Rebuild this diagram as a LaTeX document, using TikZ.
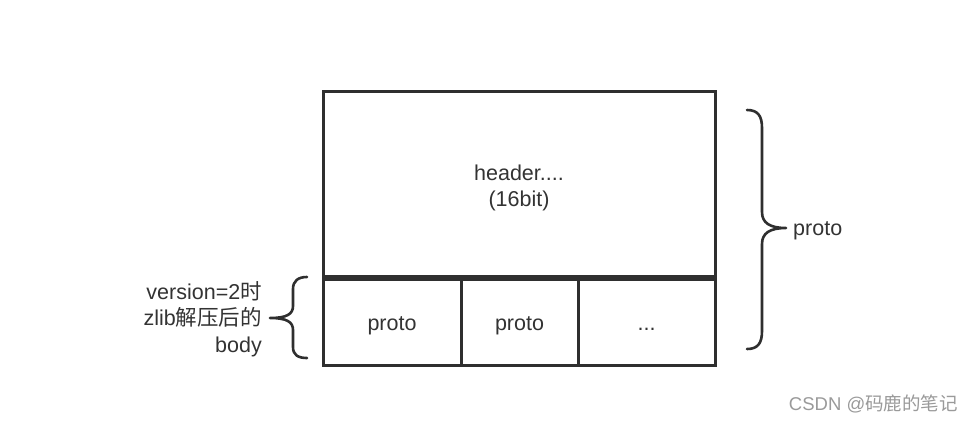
\documentclass[tikz,border=0pt]{standalone}
\usepackage{fontspec}
\setmainfont{Liberation Sans}
\newfontfamily\cjk{Noto Sans CJK SC}
\usepackage{tikz}
\usetikzlibrary{positioning}

\definecolor{inkgray}{HTML}{2F2F2F}
\definecolor{txtgray}{HTML}{333333}
\definecolor{markgray}{HTML}{9A9A9A}

\tikzset{
  cellbox/.style={draw=inkgray,line width=3pt,minimum height=86pt,inner sep=0pt,outer sep=0pt,
    text height=22pt,text depth=4.5pt,font=\fontsize{21.5}{26}\selectfont,text=txtgray},
  bracepath/.style={draw=inkgray,line width=2.6pt,line cap=round,line join=round},
  sidetext/.style={font=\fontsize{21.5}{26.5}\selectfont,text=txtgray,inner sep=0pt}
}

\begin{document}
\begin{tikzpicture}[x=1pt,y=-1pt]
      \useasboundingbox[fill=white] (0,0) rectangle (969,424);
      % header and the proto cells
      \node[cellbox,minimum width=392pt,minimum height=185pt,align=center,text height=50pt,text depth=4.5pt] (header) at (519,183.5) {header....\\(16bit)};
      \node[cellbox,minimum width=138pt] (cellA) at (392,322) {proto};
      \node[cellbox,minimum width=117pt,right=0pt of cellA] (cellB) {proto};
      \node[cellbox,minimum width=137pt,right=0pt of cellB] (cellC) {...};
      % right brace
      \coordinate (rtop) at ([xshift=32pt,yshift=-19pt]header.north east);
      \coordinate (rbot) at ([xshift=32pt,yshift=16pt]cellC.south east);
      \coordinate (rtip) at (786,228);
      \draw[bracepath] (rtop) .. controls +(11,0) and +(0,-12) .. ++(15,18) -- (762,212)
        .. controls (762,223) and (770,228) .. (rtip)
        .. controls (770,228) and (762,233) .. (762,244) -- (762,331)
        .. controls (762,343) and (758,349) .. (rbot);
      \node[sidetext,anchor=west] (wholelbl) at ([xshift=7pt,yshift=-3pt]rtip) {proto};
      % left brace
      \coordinate (ltop) at (307,277);
      \coordinate (lbot) at (307,358);
      \coordinate (ltip) at (270,318);
      \draw[bracepath] (ltop) .. controls (298,277) and (293,281) .. (293,289) -- (293,306)
        .. controls (293,314) and (287,318) .. (ltip)
        .. controls (287,318) and (293,322) .. (293,330) -- (293,347)
        .. controls (293,355) and (298,358) .. (lbot);
      \node[sidetext,anchor=east,align=right] (bodylbl) at ([xshift=-8pt,yshift=-1pt]ltip) {version=2{\cjk 时}\\zlib{\cjk 解压后的}\\body};
      % watermark
      \node[anchor=east,inner sep=0pt,text=markgray,font=\fontsize{18.5}{20}\selectfont] (mark) at (958,404) {CSDN @{\cjk 码鹿的笔记}};
    \end{tikzpicture}
\end{document}
